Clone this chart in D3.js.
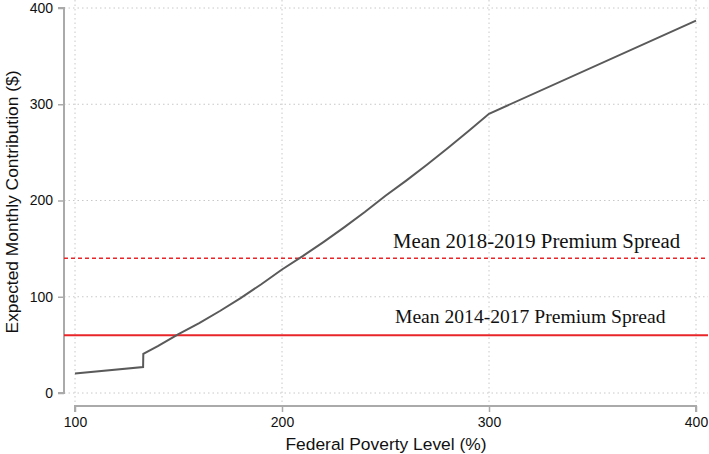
<!DOCTYPE html>
<html>
<head>
<meta charset="utf-8">
<script src="https://cdn.jsdelivr.net/npm/d3@7"></script>
<style>
html,body{margin:0;padding:0;background:#fff;}
svg{display:block;}
</style>
</head>
<body>
<svg id="chart" width="709" height="454"></svg>
<script>
// Data
const fpl = [100, 132.9, 133, 140, 150, 160, 170, 180, 190, 200, 210, 220, 230, 240, 250, 260, 270, 280, 290, 300, 400];
const contribution = [20.3, 27.0, 40.6, 48.7, 61.2, 72.7, 85.2, 98.6, 113.0, 128.3, 142.2, 156.8, 172.1, 188.1, 204.9, 220.7, 237.2, 254.3, 271.9, 290.1, 386.9];
const xTicks = [100, 200, 300, 400];
const yTicks = [0, 100, 200, 300, 400];
const refValues = [140, 60];
const refLabels = ["Mean 2018-2019 Premium Spread", "Mean 2014-2017 Premium Spread"];
const refDashed = [true, false];

const svg = d3.select("#chart");
const x = d3.scaleLinear().domain([100, 400]).range([75, 696]);
const y = d3.scaleLinear().domain([0, 400]).range([393, 8]);
const plotRight = 708;

// gridlines
svg.append("g").selectAll("line").data(yTicks).join("line")
  .attr("x1", 64).attr("x2", plotRight)
  .attr("y1", d => y(d)).attr("y2", d => y(d))
  .attr("stroke", "#c8c8c8").attr("stroke-width", 1).attr("stroke-dasharray", "1.5,3");
svg.append("g").selectAll("line").data(xTicks).join("line")
  .attr("x1", d => x(d)).attr("x2", d => x(d))
  .attr("y1", 0).attr("y2", 402)
  .attr("stroke", "#c8c8c8").attr("stroke-width", 1).attr("stroke-dasharray", "1.5,3");

// axes
const yAxis = svg.append("g").attr("transform", "translate(64,0)")
  .call(d3.axisLeft(y).tickValues(yTicks).tickSize(6).tickPadding(5).tickFormat(d3.format("d")));
const xAxis = svg.append("g").attr("transform", "translate(0,406)")
  .call(d3.axisBottom(x).tickValues(xTicks).tickSize(6).tickPadding(5).tickFormat(d3.format("d")));
[yAxis, xAxis].forEach(a => {
  a.select(".domain").attr("stroke", "#aaaaaa").attr("stroke-width", 2);
  a.selectAll(".tick line").attr("stroke", "#aaaaaa").attr("stroke-width", 1.5);
  a.selectAll(".tick text").attr("font-family", "Liberation Sans, Arial, sans-serif").attr("font-size", 14).attr("fill", "#111");
});
yAxis.select(".domain").attr("d", `M-6,${y(400)}H0V${y(0)}H-6`).attr("fill", "none");
xAxis.select(".domain").attr("d", `M${x(100)},6V0H${x(400)}V6`).attr("fill", "none");

// reference lines
refValues.forEach((v, i) => {
  svg.append("line")
    .attr("x1", 64).attr("x2", plotRight)
    .attr("y1", y(v)).attr("y2", y(v))
    .attr("stroke", "#e8262a").attr("stroke-width", refDashed[i] ? 1.6 : 2)
    .attr("stroke-dasharray", refDashed[i] ? "4,3" : null);
  svg.append("text")
    .attr("x", refDashed[i] ? 393 : 395).attr("y", y(v) - (refDashed[i] ? 10 : 12))
    .attr("font-family", "Liberation Serif, Times New Roman, serif")
    .attr("font-size", refDashed[i] ? 20.8 : 19.6)
    .attr("fill", "#111")
    .text(refLabels[i]);
});

// data line
const line = d3.line().x((d, i) => x(fpl[i])).y(d => y(d));
svg.append("path").datum(contribution)
  .attr("d", line).attr("fill", "none")
  .attr("stroke", "#5a5a5a").attr("stroke-width", 2);

// axis titles
svg.append("text").attr("x", 386).attr("y", 450).attr("text-anchor", "middle")
  .attr("font-family", "Liberation Sans, Arial, sans-serif").attr("font-size", 17.4).attr("fill", "#111")
  .text("Federal Poverty Level (%)");
svg.append("text").attr("transform", "translate(18,202) rotate(-90)").attr("text-anchor", "middle")
  .attr("font-family", "Liberation Sans, Arial, sans-serif").attr("font-size", 17.4).attr("fill", "#111")
  .text("Expected Monthly Contribution ($)");
</script>
</body>
</html>
